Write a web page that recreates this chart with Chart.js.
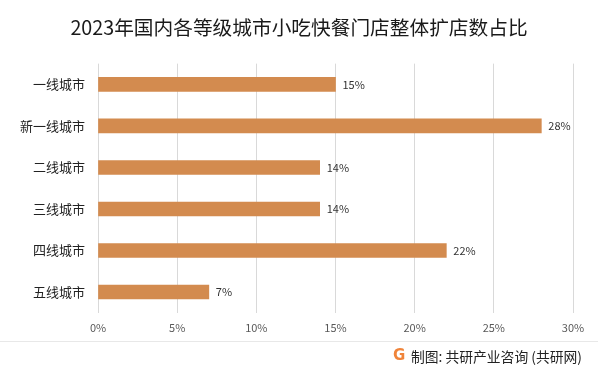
<!DOCTYPE html>
<html>
<head>
<meta charset="utf-8">
<script src="https://cdn.jsdelivr.net/npm/chart.js@4"></script>
<style>
  body { margin: 0; background: #fff; }
  #wrap { position: relative; width: 598px; height: 373px; }
  #footer {
    position: absolute; left: 0; right: 0; top: 341px; height: 32px;
    border-top: 1px solid #e8e8e8;
    font-family: "Noto Sans CJK SC", sans-serif; font-size: 13.8px; color: #222;
  }
  #footer .txt { position: absolute; right: 16px; top: 4px; }
  #footer .logo {
    position: absolute; left: 393px; top: 4px;
    font: bold 15px "DejaVu Sans", sans-serif; color: #f0843a;
  }
</style>
</head>
<body>
<div id="wrap">
  <canvas id="c" width="598" height="373"></canvas>
  <div id="footer"><div class="logo">G</div><div class="txt">制图: 共研产业咨询 (共研网)</div></div>
</div>
<script>
const cities = ["一线城市", "新一线城市", "二线城市", "三线城市", "四线城市", "五线城市"];
const shares = [15, 28, 14, 14, 22, 7];
const xTicks = [0, 5, 10, 15, 20, 25, 30];

const barLabels = {
  id: "barLabels",
  afterDatasetsDraw(chart) {
    const ctx = chart.ctx;
    ctx.save();
    ctx.font = "11px 'Noto Sans CJK SC', sans-serif";
    ctx.fillStyle = "#333";
    ctx.textBaseline = "middle";
    chart.getDatasetMeta(0).data.forEach((bar, i) => {
      ctx.fillText(shares[i] + "%", bar.x + 7, bar.y);
    });
    ctx.restore();
  }
};

new Chart(document.getElementById("c"), {
  type: "bar",
  data: {
    labels: cities,
    datasets: [{ data: shares, backgroundColor: "#d38b4f", barThickness: 14 }]
  },
  options: {
    indexAxis: "y",
    responsive: false,
    animation: false,
    layout: { padding: { left: 0, right: 0, top: 0, bottom: 31 } },
    plugins: {
      legend: { display: false },
      tooltip: { enabled: false },
      title: {
        display: true,
        text: "2023年国内各等级城市小吃快餐门店整体扩店数占比",
        color: "#1a1a1a",
        font: { size: 19.7, family: "'Noto Sans CJK SC', sans-serif", weight: "normal" },
        padding: { top: 16, bottom: 24 }
      }
    },
    scales: {
      x: {
        min: 0, max: 30,
        afterBuildTicks(axis) { axis.ticks = xTicks.map(v => ({ value: v })); },
        afterFit(axis) { axis.paddingRight = 25; },
        ticks: {
          callback: v => v + "%",
          color: "#595959",
          font: { size: 11, family: "'Noto Sans CJK SC', sans-serif" },
          padding: 8
        },
        grid: { color: "#d9d9d9", drawTicks: false },
        border: { display: false }
      },
      y: {
        afterFit(axis) { axis.width = 98; },
        ticks: {
          color: "#222",
          font: { size: 13, family: "'Noto Sans CJK SC', sans-serif" },
          padding: 5
        },
        grid: { display: false },
        border: { display: false }
      }
    }
  },
  plugins: [barLabels]
});
</script>
</body>
</html>
